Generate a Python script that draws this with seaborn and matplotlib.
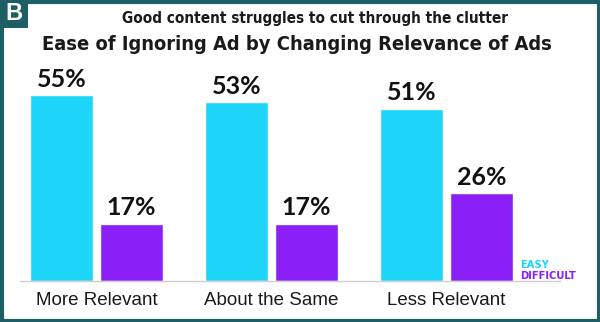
import matplotlib
matplotlib.use("Agg")
import matplotlib.pyplot as plt
import seaborn as sns
import pandas as pd
from matplotlib.patches import Rectangle

categories = ["More Relevant", "About the Same", "Less Relevant"]
easy = [55, 53, 51]
difficult = [17, 17, 26]
series_names = ["EASY", "DIFFICULT"]
title1 = "Good content struggles to cut through the clutter"
title2 = "Ease of Ignoring Ad by Changing Relevance of Ads"

CYAN = "#1ED6FA"
PURPLE = "#8A1FF7"
TEAL = "#1E5F66"

sns.set_theme(style="white")
plt.rcParams["font.family"] = ["Liberation Sans", "DejaVu Sans"]

df = pd.DataFrame({
    "cat": categories * 2,
    "val": easy + difficult,
    "series": [series_names[0]] * 3 + [series_names[1]] * 3,
})

fig = plt.figure(figsize=(6.0, 3.22), dpi=100)
ax = fig.add_axes([20 / 600, 41 / 322, 540 / 600, 221 / 322])
sns.barplot(data=df, x="cat", y="val", hue="series", order=categories,
            hue_order=series_names, palette=[CYAN, PURPLE], gap=0.1,
            saturation=1, ax=ax, legend=False, errorbar=None)
ax.set_xlim((20 - 96.5) / 175, (560 - 96.5) / 175)
ax.set_ylim(0, 221 / 3.38)
for s in ["top", "right", "left"]:
    ax.spines[s].set_visible(False)
ax.spines["bottom"].set_color("#cfcfcf")
ax.spines["bottom"].set_linewidth(1)
ax.set_yticks([])
ax.set_xlabel("")
ax.set_ylabel("")
ax.tick_params(axis="x", length=0, pad=8)
for lbl in ax.get_xticklabels():
    lbl.set_fontsize(13.5)
    lbl.set_color("#1a1a1a")

for cont in ax.containers:
    ax.bar_label(cont, labels=[f"{int(v)}%" for v in cont.datavalues],
                 padding=3, fontsize=18, fontweight="bold", color="#111111",
                 family=["Lato", "DejaVu Sans"])

cond = dict(fontstretch="condensed", family=["DejaVu Sans"])
fig.text(315 / 600, 1 - 18 / 322, title1, ha="center", va="center",
         fontsize=11, fontweight="bold", color="#1a1a1a", **cond)
fig.text(297 / 600, 1 - 45 / 322, title2, ha="center", va="center",
         fontsize=14.4, fontweight="bold", color="#1a1a1a", **cond)

fig.text(520 / 600, 1 - 265 / 322, "EASY", ha="left", va="center",
         fontsize=8, fontweight="bold", color=CYAN, **cond)
fig.text(520 / 600, 1 - 276 / 322, "DIFFICULT", ha="left", va="center",
         fontsize=8, fontweight="bold", color=PURPLE, **cond)

# frame border and corner badge
fig.patches.append(Rectangle((1.5 / 600, 1.5 / 322), 597 / 600, 319 / 322,
                             transform=fig.transFigure, fill=False,
                             edgecolor=TEAL, linewidth=3))
fig.patches.append(Rectangle((0, 1 - 28 / 322), 28 / 600, 28 / 322,
                             transform=fig.transFigure, facecolor=TEAL,
                             edgecolor="none"))
fig.text(14 / 600, 1 - 14 / 322, "B", ha="center", va="center",
         fontsize=17, fontweight="bold", color="white",
         family=["Liberation Sans", "DejaVu Sans"])

fig.savefig("out.png", dpi=100)
